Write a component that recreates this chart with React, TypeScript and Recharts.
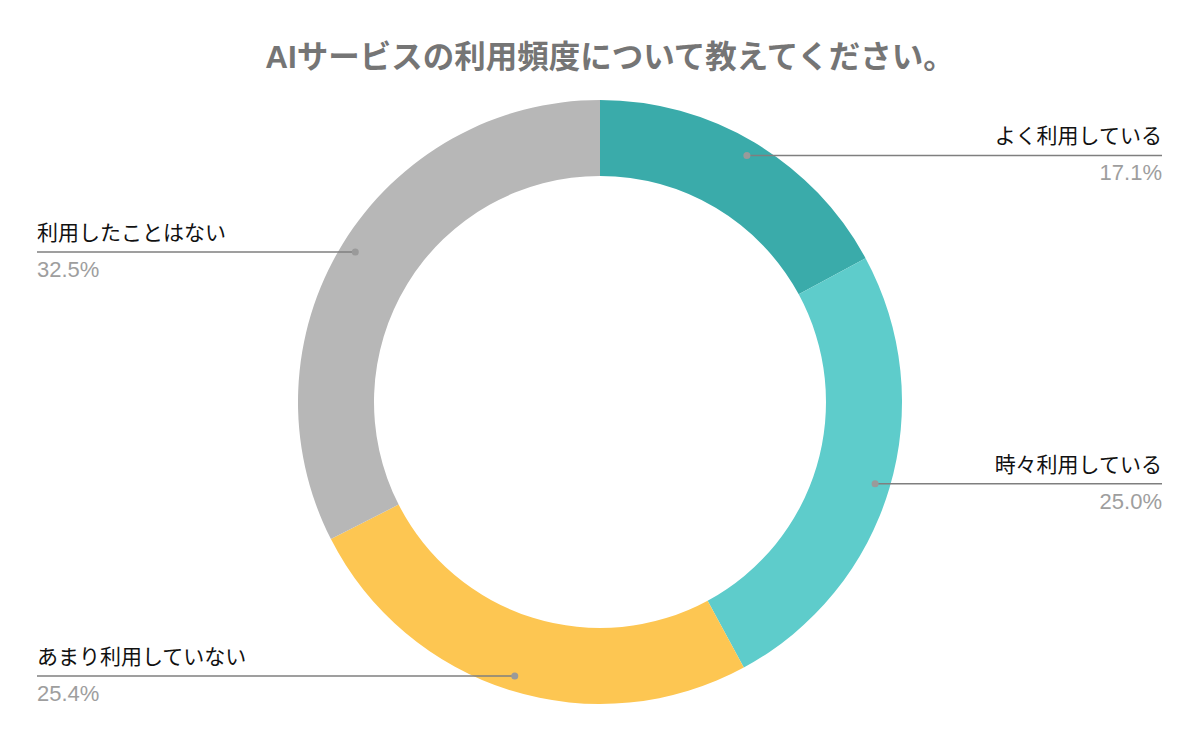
import { PieChart, Pie, Cell } from 'recharts';

const categories = ['よく利用している', '時々利用している', 'あまり利用していない', '利用したことはない'];
const shares = [17.1, 25.0, 25.4, 32.5];
const sliceColors = ['#3aabaa', '#5ecccb', '#fdc652', '#b7b7b7'];

const chartData = categories.map((name, i) => ({ name, value: shares[i] }));

const RAD = Math.PI / 180;

const SliceLabel = (props: any) => {
  const { cx, cy, midAngle, outerRadius, name, value } = props;
  const r = outerRadius - 15;
  const x = cx + r * Math.cos(-midAngle * RAD);
  const y = cy + r * Math.sin(-midAngle * RAD);
  const right = x > cx;
  const endX = right ? 1162 : 37;
  const anchor = right ? 'end' : 'start';
  return (
    <g>
      <line x1={x} y1={y} x2={endX} y2={y} stroke="#7f7f7f" strokeWidth={1.5} />
      <circle cx={x} cy={y} r={3.5} fill="#9a9a9a" />
      <text x={endX} y={y - 12} textAnchor={anchor} fill="#111111" fontSize={21}>
        {name}
      </text>
      <text x={endX} y={y + 25} textAnchor={anchor} fill="#9e9e9e" fontSize={22}>
        {`${value.toFixed(1)}%`}
      </text>
    </g>
  );
};

export default function App() {
  return (
    <div
      style={{
        position: 'absolute',
        left: 0,
        top: 0,
        width: 1200,
        height: 742,
        background: '#ffffff',
        fontFamily: '"Liberation Sans", "Noto Sans CJK JP", Arial, sans-serif',
      }}
    >
      <div
        style={{
          position: 'absolute',
          top: 36,
          left: 10,
          width: 1200,
          textAlign: 'center',
          fontSize: 31.5,
          fontWeight: 700,
          color: '#757575',
          lineHeight: '42px',
        }}
      >
        AIサービスの利用頻度について教えてください。
      </div>
      <PieChart width={1200} height={742} margin={{ top: 0, right: 0, bottom: 0, left: 0 }}>
        <Pie
          data={chartData}
          dataKey="value"
          nameKey="name"
          cx={600}
          cy={402}
          innerRadius={226}
          outerRadius={302}
          startAngle={90}
          endAngle={-270}
          stroke="none"
          labelLine={false}
          label={SliceLabel}
          isAnimationActive={false}
        >
          {chartData.map((entry, index) => (
            <Cell key={`cell-${index}`} fill={sliceColors[index]} />
          ))}
        </Pie>
      </PieChart>
    </div>
  );
}
